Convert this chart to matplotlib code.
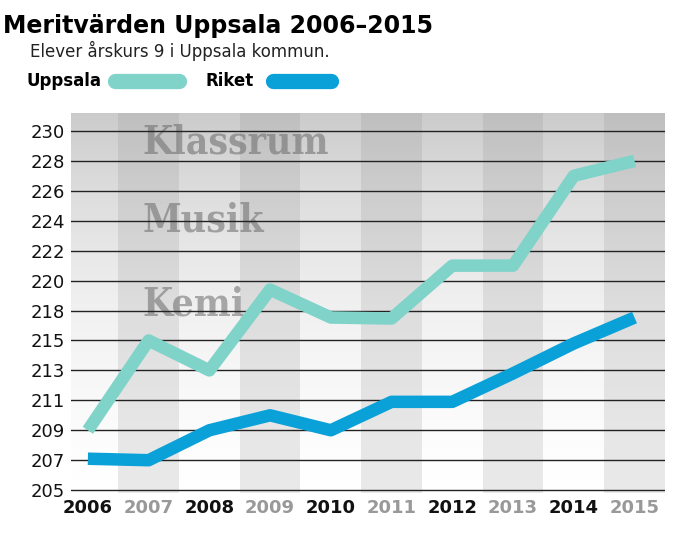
import numpy as np
import matplotlib.pyplot as plt

years = [2006, 2007, 2008, 2009, 2010, 2011, 2012, 2013, 2014, 2015]
tick_vals = [205, 207, 209, 211, 213, 215, 218, 220, 222, 224, 226, 228, 230]
uppsala = [209, 215, 213, 219.4, 217.3, 217.2, 221, 221, 227, 228]
riket = [207.1, 207.0, 209, 210, 209, 210.9, 210.9, 212.8, 214.8, 217.3]

def pos(v):
    return np.interp(v, tick_vals, np.arange(len(tick_vals)))

fig = plt.figure(figsize=(6.75, 5.51), dpi=100)
ax = fig.add_axes([0.105, 0.105, 0.88, 0.69])
x = np.arange(len(years))
ax.set_xlim(-0.28, len(years) - 0.5)
ax.set_ylim(-0.1, 12.6)

# background: light gradient (grey top, white bottom) + alternating stripes
grad = np.linspace(0, 1, 200).reshape(-1, 1) ** 1.3
ax.imshow(grad, extent=[-0.28, len(years) - 0.5, -0.1, 12.6], aspect='auto',
          cmap='Greys', vmin=0.0, vmax=3.2, origin='lower', zorder=0)
for i in x:
    if i % 2 == 1:
        ax.axvspan(i - 0.5, i + 0.5, color='#888888', alpha=0.18, lw=0, zorder=0.5)
for t, yy in [('Klassrum', 11.6), ('Musik', 9.0), ('Kemi', 6.2)]:
    ax.text(0.9, yy, t, fontsize=28, family='DejaVu Serif', fontweight='bold',
            fontstretch='condensed', color='#6a6a6a', alpha=0.55, va='center', zorder=0.8)

for k in range(len(tick_vals)):
    ax.axhline(k, color='#222222', lw=1.0, zorder=1)

ax.plot(x, pos(uppsala), color='#7fd3c9', lw=9, solid_capstyle='butt', zorder=3)
ax.plot(x, pos(riket), color='#0aa0d8', lw=9, solid_capstyle='butt', zorder=3)

ax.set_yticks(range(len(tick_vals)))
ax.set_yticklabels([str(v) for v in tick_vals], fontsize=13, color='#111111')
ax.set_xticks(x)
ax.set_xticklabels([str(y) for y in years], fontsize=13, fontweight='bold')
for i, lab in enumerate(ax.get_xticklabels()):
    lab.set_color('#999999' if i % 2 else '#111111')
ax.tick_params(length=0, pad=4)
for s in ax.spines.values():
    s.set_visible(False)

fig.text(0.005, 0.975, 'Meritvärden Uppsala 2006–2015', fontsize=17, fontweight='heavy', va='top')
fig.text(0.045, 0.925, 'Elever årskurs 9 i Uppsala kommun.', fontsize=12, va='top', color='#222222')
fig.text(0.04, 0.853, 'Uppsala', fontsize=12, fontweight='bold', va='center')
fig.add_artist(plt.Line2D([0.17, 0.265], [0.853, 0.853], color='#7fd3c9', lw=11, solid_capstyle='round'))
fig.text(0.305, 0.853, 'Riket', fontsize=12, fontweight='bold', va='center')
fig.add_artist(plt.Line2D([0.405, 0.49], [0.853, 0.853], color='#0aa0d8', lw=11, solid_capstyle='round'))

fig.savefig('out.png', dpi=100)
